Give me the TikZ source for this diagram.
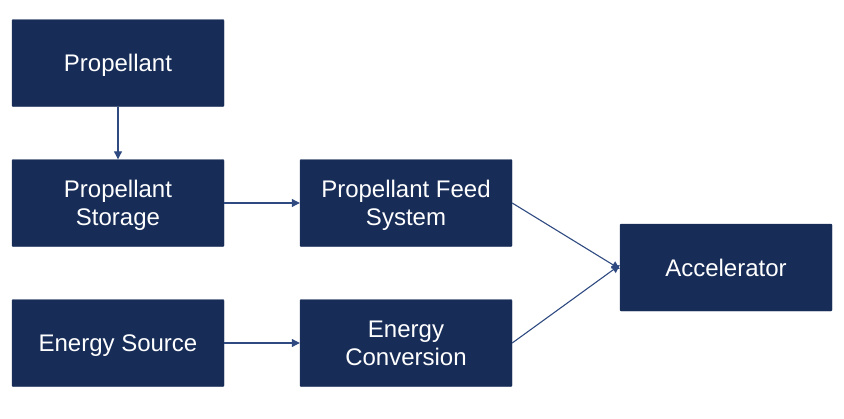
\documentclass[tikz,border=0pt]{standalone}
\usepackage{fontspec}
\setmainfont{Liberation Sans}
\usetikzlibrary{arrows.meta}
\definecolor{boxnavy}{HTML}{172C57}
\definecolor{arrowblue}{HTML}{2E4A80}
\begin{document}
\begin{tikzpicture}[x=1pt,y=-1pt,
  blk/.style={fill=boxnavy, draw=boxnavy, rounded corners=1pt, minimum width=212pt, minimum height=87pt,
    inner sep=0pt, text depth=0pt, text=white, align=center, font=\fontsize{24}{27.5}\selectfont},
  conn/.style={draw=arrowblue, line width=1.1pt, -{Triangle[length=8pt,width=8pt]}}]
\useasboundingbox (0,0) rectangle (844,418);
\node[blk] (prop) at (118,63) {Propellant};
\node[blk] (stor) at (118,203) {Propellant\\Storage};
\node[blk] (esrc) at (118,343) {Energy Source};
\node[blk] (feed) at (406,203) {Propellant Feed\\System};
\node[blk] (conv) at (406,343) {Energy\\Conversion};
\node[blk] (acc) at (726,267.5) {Accelerator};
\coordinate (accin1) at ([yshift=-1.5pt]acc.west);
\coordinate (accin2) at ([yshift=2.5pt]acc.west);
\draw[conn] (prop) -- (stor);
\draw[conn] (stor) -- (feed);
\draw[conn] (esrc) -- (conv);
\draw[conn] (feed.east) -- (accin1);
\draw[conn] (conv.east) -- (accin2);
\end{tikzpicture}
\end{document}
